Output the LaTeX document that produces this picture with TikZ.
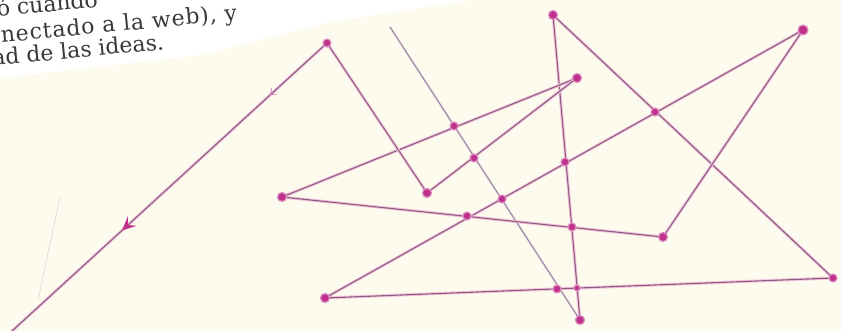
\documentclass[tikz,border=0pt]{standalone}
\usepackage{fontspec}
\setmainfont{DejaVu Serif}
\usetikzlibrary{arrows.meta,decorations.markings}
\definecolor{PaperCream}{HTML}{FDFBEE}
\definecolor{InkMagenta}{HTML}{C0318C}
\definecolor{InkMauve}{HTML}{8E5F7C}
\definecolor{InkGlow}{HTML}{F3C3E0}
\definecolor{PencilGrey}{HTML}{8F8890}
\definecolor{TextGrey}{HTML}{3A3838}

\begin{document}
\begin{tikzpicture}[
  x=1pt,y=-1pt,
  every node/.style={font=\fontsize{22}{24}\selectfont,text=TextGrey},
  dot/.style={circle,fill=InkMagenta,draw=InkMagenta!55,line width=1.2pt,inner sep=0pt},
  link/.style={draw=InkMauve,line width=1.1pt,preaction={draw=InkGlow,line width=3pt}},
  pencil/.style={draw=PencilGrey,line width=1pt,preaction={draw=InkGlow!50,line width=2.6pt}},
  faint/.style={draw=black!14,line width=0.7pt}
]
  \fill[PaperCream] (0,0) rectangle (841,331);
  \fill[white] (0,0) -- (470,0) -- (330,22) -- (200,55) -- (0,78) -- cycle;
  \useasboundingbox (0,0) rectangle (841,331);
  \clip (0,0) rectangle (841,331);

  % page text, cut by the frame
  \node[anchor=base west,rotate=5.5] (lineA) at (-6,17) {ó cuando};
  \node[anchor=base west,rotate=5.5] (lineB) at (-2,43)
    {\addfontfeature{LetterSpace=4}nectado a la web), y};
  \node[anchor=base east,rotate=5.5] (lineC) at (168,49) {ad de las ideas.};

  \foreach \n/\x/\y in {A/327/43,B/553/15,N/803/30,M/577/78,O/655/112,C/454/126,
      D/474/158,E/565/162,F/282/197,G/427/193,H/502/199,I/467/216,J/572/227,
      P/663/237,K/325/298,L/557/289,Q/577/288,R/580/320,S/833/278,
      gs/390/27,tail/0/342,strayA/60/197,strayB/38/300}
    \coordinate (\n) at (\x,\y);

  \draw[faint] (strayA) -- (strayB);
  \draw[pencil] (gs) -- (R);
  \foreach \a/\b in {B/R,B/S,N/P,N/K,F/P,F/M,G/M,A/G,K/S}
    \draw[link] (\a) -- (\b);
  \draw[link,postaction={decorate},decoration={markings,
      mark=at position 0.174 with {\arrow[InkMagenta!60,line width=0.8pt]{Straight Barb[length=5pt,width=8pt]}},
      mark=at position 0.627 with {\arrow[InkMagenta]{Stealth[length=14pt,width=13pt,inset=6pt]}}}]
    (A) -- (tail);

  \foreach \p/\s in {A/8,B/9,N/10,M/9,O/8,C/8,D/8,E/8,F/9,G/9,H/8,I/8,J/8,
      P/9,K/9,L/8,Q/6,R/9,S/8}
    \node[dot,minimum size=\s pt] (dot\p) at (\p) {};
\end{tikzpicture}
\end{document}
